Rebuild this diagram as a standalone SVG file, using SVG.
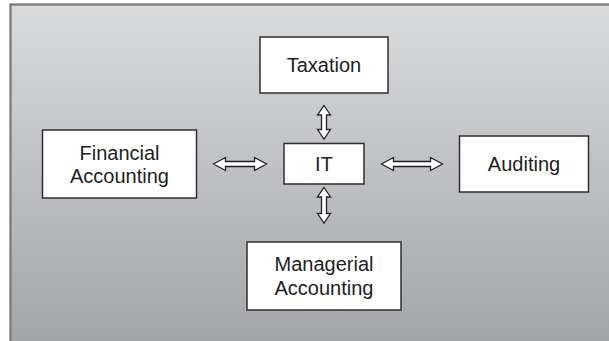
<svg xmlns="http://www.w3.org/2000/svg" width="609" height="341" viewBox="0 0 609 341">
  <defs>
    <linearGradient id="bg" x1="0" y1="0" x2="0" y2="1">
      <stop offset="0" stop-color="#dadbdd"/>
      <stop offset="1" stop-color="#a2a3a7"/>
    </linearGradient>
    <style>
      .box { fill: #ffffff; stroke: #2f2f2f; stroke-width: 1.5; }
      .lbl { font-family: "Liberation Sans", Arial, sans-serif; font-size: 20px; fill: #1e1e1e; text-anchor: middle; }
      .arrow { fill: #ffffff; stroke: #222222; stroke-width: 1.3; stroke-linejoin: miter; }
    </style>
  </defs>
  <rect x="0" y="0" width="609" height="341" fill="#ffffff"/>
  <rect x="10.5" y="4.5" width="620" height="350" fill="url(#bg)" stroke="#7b7b7d" stroke-width="2.3"/>

  <g id="connectors">
    <polygon class="arrow" points="213.5,164 225.5,157.5 225.5,161.5 254.5,161.5 254.5,157.5 266.5,164 254.5,170.5 254.5,166.5 225.5,166.5 225.5,170.5"/>
    <polygon class="arrow" points="381.5,164 393.5,157.5 393.5,161.5 430.5,161.5 430.5,157.5 442.5,164 430.5,170.5 430.5,166.5 393.5,166.5 393.5,170.5"/>
    <polygon class="arrow" points="324,105.5 330.5,115 326.5,115 326.5,129.5 330.5,129.5 324,139 317.5,129.5 321.5,129.5 321.5,115 317.5,115"/>
    <polygon class="arrow" points="324,187.5 330.5,197 326.5,197 326.5,213.5 330.5,213.5 324,223 317.5,213.5 321.5,213.5 321.5,197 317.5,197"/>
  </g>

  <g id="taxation">
    <rect class="box" x="260" y="37" width="128" height="56"/>
    <text class="lbl" x="324" y="72">Taxation</text>
  </g>
  <g id="financial-accounting">
    <rect class="box" x="42.5" y="130" width="154" height="68"/>
    <text class="lbl" x="119.5" y="159.5">Financial</text>
    <text class="lbl" x="119.5" y="182.5">Accounting</text>
  </g>
  <g id="it">
    <rect class="box" x="284" y="143.5" width="80" height="40.5"/>
    <text class="lbl" x="324" y="170.5">IT</text>
  </g>
  <g id="auditing">
    <rect class="box" x="459.5" y="136" width="129" height="56"/>
    <text class="lbl" x="524" y="171">Auditing</text>
  </g>
  <g id="managerial-accounting">
    <rect class="box" x="247" y="242" width="154" height="68"/>
    <text class="lbl" x="324" y="271">Managerial</text>
    <text class="lbl" x="324" y="294.5">Accounting</text>
  </g>
</svg>
